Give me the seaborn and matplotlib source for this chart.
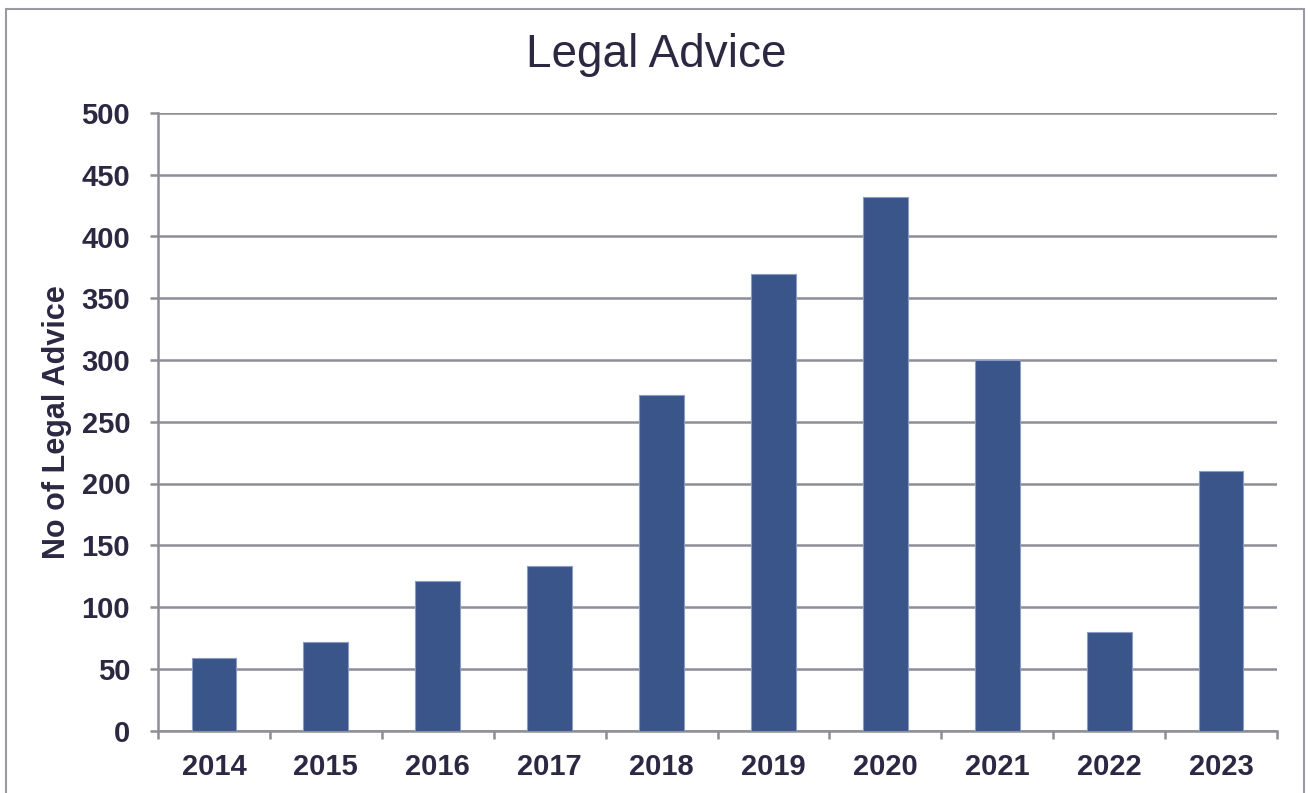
import matplotlib
matplotlib.use("Agg")
import matplotlib.pyplot as plt
from matplotlib.patches import Rectangle
from matplotlib.ticker import FixedLocator, NullFormatter
import seaborn as sns
import pandas as pd

years = ["2014", "2015", "2016", "2017", "2018", "2019", "2020", "2021", "2022", "2023"]
counts = [59, 72, 121, 133, 272, 370, 432, 300, 80, 210]
y_ticks = [0, 50, 100, 150, 200, 250, 300, 350, 400, 450, 500]

TEXT = "#2c2842"
BAR = "#3a5589"
GRID = "#8e8d98"

sns.set_theme(style="white")
plt.rcParams["font.family"] = ["Liberation Sans", "DejaVu Sans"]

df = pd.DataFrame({"year": years, "count": counts})

fig = plt.figure(figsize=(13.1, 7.93), dpi=100)
ax = fig.add_axes([158 / 1310, 1 - 730.5 / 793, (1277 - 158) / 1310, (730.5 - 113) / 793])

sns.barplot(data=df, x="year", y="count", color=BAR, width=0.4, saturation=1,
            edgecolor="#8a9cc4", linewidth=0.8, ax=ax, zorder=3)

ax.set_xlim(-0.5, len(years) - 0.5)
ax.set_ylim(0, 500)
ax.set_yticks(y_ticks)
ax.set_yticklabels([str(v) for v in y_ticks])
ax.yaxis.grid(True, color=GRID, linewidth=1.8, zorder=0)
ax.set_axisbelow(True)

for s in ["top", "right"]:
    ax.spines[s].set_visible(False)
for s in ["left", "bottom"]:
    ax.spines[s].set_color(GRID)
    ax.spines[s].set_linewidth(1.8)

ax.tick_params(axis="y", which="major", length=6, width=1.8, color=GRID,
               labelsize=21, labelcolor=TEXT, pad=14, left=True)
for lab in ax.get_yticklabels():
    lab.set_fontweight("bold")

ax.tick_params(axis="x", which="major", length=0, labelsize=21, labelcolor=TEXT, pad=16)
for lab in ax.get_xticklabels():
    lab.set_fontweight("bold")
ax.xaxis.set_minor_locator(FixedLocator([i - 0.5 for i in range(len(years) + 1)]))
ax.xaxis.set_minor_formatter(NullFormatter())
ax.tick_params(axis="x", which="minor", length=6, width=1.8, color=GRID, bottom=True)

ax.set_xlabel("")
ax.set_ylabel("")
fig.text(57 / 1310, 1 - 422 / 793, "No of Legal Advice", fontsize=22, fontweight="bold",
         color=TEXT, rotation=90, ha="center", va="center")

fig.text(656 / 1310, 1 - 55 / 793, "Legal Advice", fontsize=33, color=TEXT,
         ha="center", va="center")

fig.patches.append(Rectangle((6 / 1310, -0.05), 1298 / 1310, 1.05 - 9 / 793,
                             transform=fig.transFigure, fill=False,
                             edgecolor="#9a9aa2", linewidth=1.5, zorder=-1))

fig.savefig("out.png", dpi=100)
